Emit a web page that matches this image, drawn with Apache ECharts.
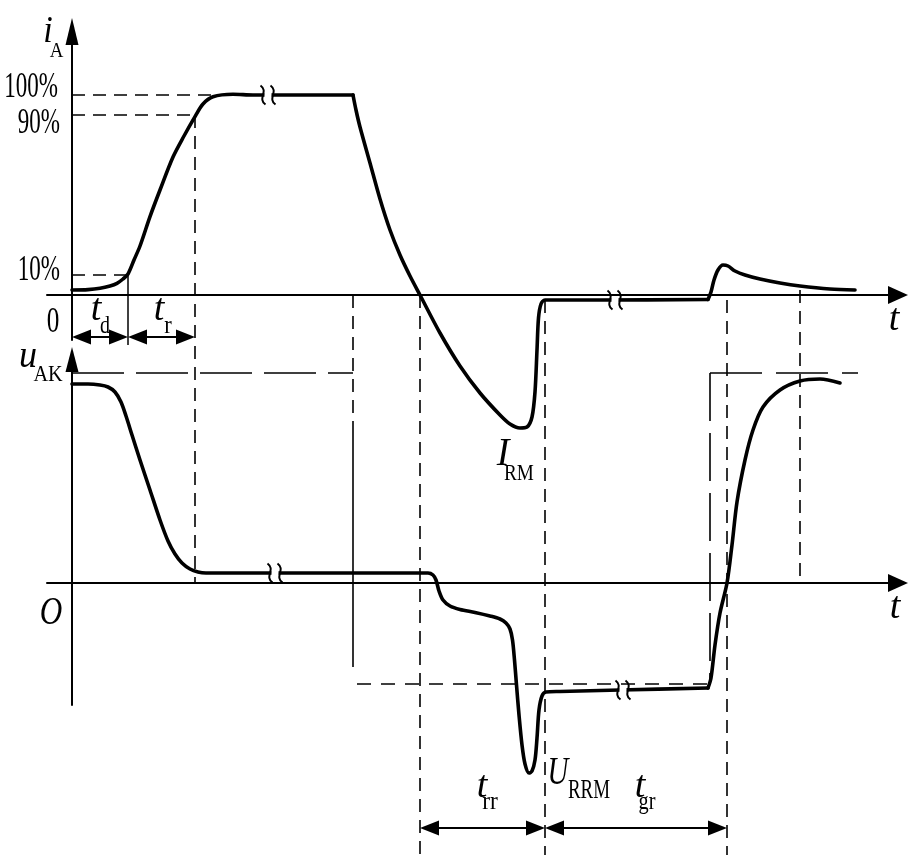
<!DOCTYPE html>
<html>
<head>
<meta charset="utf-8">
<script src="https://cdn.jsdelivr.net/npm/echarts@6/dist/echarts.min.js"></script>
<style>html,body{margin:0;padding:0;background:#fff;}#chart{width:916px;height:866px;}</style>
</head>
<body>
<div id="chart"></div>
<script>
// ---------------- data ----------------
// time t in arbitrary units, anode current i_A in % of on-state current,
// anode-cathode voltage u_AK in % units.
const iaTurnOn = [[0,2.5],[1.6,2.7],[2.8,3.35],[3.8,4.5],[4.5,5.85],[5.1,8],[5.6,10.5],[6.2,17.5],[6.8,24.5],
  [7.8,39.2],[8.8,52.5],[10.1,69],[11.2,79.5],[12.3,89.2],[13.1,95.5],[14.1,99.1],[16.1,100.35],[18.1,100],
  [22.8,100],[28.1,100]];
const iaTurnOff = [[28.1,100],[28.4,92.5],[28.8,84],[29.8,66],[30.8,48],[31.8,32.5],[32.8,20],[33.8,9.5],
  [34.8,0],[36.8,-19],[38.8,-35.5],[40.8,-49],[42.8,-60],[43.8,-64.5],[44.8,-66.5],[45.5,-66],[46.0,-61],
  [46.3,-48.5],[46.5,-27.5],[46.65,-11.5],[46.9,-4.5],[47.3,-2.5],[52.8,-2.5],[63.6,-2.25]];
const iaReapply = [[63.6,-2.25],[63.9,1.5],[64.2,7.5],[64.6,12.5],[65.1,15],[65.6,14.5],[66.3,12],[67.3,10],
  [68.8,8],[70.8,6],[72.8,4.5],[75.8,3],[78.3,2.5]];
const uakMain = [[0,99.5],[1.6,99.5],[2.8,99],[3.6,98],[4.3,95.5],[4.9,90.5],[5.4,83.5],[6.0,74],[6.8,61.5],
  [7.8,46.5],[8.8,31.5],[9.6,21],[10.3,14.5],[11.0,10],[11.8,7],[12.6,5.5],[13.4,5],[22.8,5],[35.6,5],
  [36.1,4],[36.4,1.5],[36.7,-4],[37.1,-8.5],[37.8,-11.5],[38.8,-13.25],[40.3,-14.75],[41.8,-16.5],[42.8,-18],
  [43.4,-20],[43.8,-23],[44.05,-28.5],[44.25,-38.5],[44.45,-51],[44.7,-66],[45.0,-81],[45.3,-90.5],
  [45.7,-95],[46.0,-94],[46.3,-88.5],[46.5,-77.5],[46.7,-63.5],[47.0,-56.5],[47.4,-54.5],[48.8,-54.25],
  [54.8,-53.5],[63.6,-52.5]];
const uakReapply = [[63.6,-52.5],[63.9,-47.5],[64.3,-31],[64.8,-15],[65.5,0],[66.0,19],[66.5,40.5],
  [67.3,61.5],[68.1,76.5],[69.1,88],[70.8,96.5],[72.8,101],[74.8,102],[76.8,100]];

// characteristic instants
const tD = 5.6, tR = 12.3, tOff = 28.1, tZero = 34.8, tRR = 47.3, tStep = 63.8, tGR = 65.5, tSettle = 72.8;
// current levels marked on the i_A axis
const iLevels = [100, 90, 10];
const iLevelEnds = [14.1, 12.3, 5.6];
const iLevelLabels = ['100%', '90%', '10%'];
// supply voltage reference levels
const uForward = 105, uReverse = -50.5;
// interval arrows [t from, t to, level]
const turnOnSpans = [[0, tD, -21], [tD, tR, -21]];
const recoverySpans = [[tZero, tRR, -122.5], [tRR, tGR, -122.5]];
// axis-break marks on the long flat parts
const iBreaks = [[19.6, 100], [54.3, -2.5]];
const uBreaks = [[20.3, 5], [55.1, -53.5]];

// ---------------- text (layout) ----------------
const spots0 = [
  {text:'i', t:-2.4, v:125, size:38, sx:0.9, italic:true},
  {text:'A', t:-1.55, v:118, size:21, sx:0.9},
  {text:iLevelLabels[0], t:-1.4, v:97.5, size:36, sx:0.64, align:'right'},
  {text:iLevelLabels[1], t:-1.2, v:79.5, size:36, sx:0.64, align:'right'},
  {text:iLevelLabels[2], t:-1.2, v:6, size:36, sx:0.64, align:'right'},
  {text:'0', t:-1.9, v:-20, size:36, sx:0.7},
  {text:'t', t:2.4, v:-14, size:38, sx:1, italic:true},
  {text:'d', t:3.3, v:-20, size:25, sx:0.8},
  {text:'t', t:8.7, v:-14, size:38, sx:1, italic:true},
  {text:'r', t:9.6, v:-20, size:25, sx:0.9},
  {text:'t', t:82.2, v:-19, size:38, sx:1, italic:true},
  {text:'I', t:43.1, v:-86.5, size:40, sx:0.95, italic:true},
  {text:'RM', t:44.7, v:-93.5, size:24, sx:0.8}
];
const spots1 = [
  {text:'u', t:-4.4, v:106.5, size:38, sx:0.95, italic:true},
  {text:'AK', t:-2.4, v:100, size:23, sx:0.88},
  {text:'O', t:-2.1, v:-22, size:40, sx:0.78, italic:true},
  {text:'t', t:82.3, v:-19, size:38, sx:1, italic:true},
  {text:'t', t:41, v:-108.5, size:38, sx:1, italic:true},
  {text:'rr', t:41.8, v:-114, size:26, sx:0.9},
  {text:'U', t:48.6, v:-102, size:40, sx:0.72, italic:true},
  {text:'RRM', t:51.7, v:-108.5, size:27, sx:0.7},
  {text:'t', t:56.8, v:-108.5, size:38, sx:1, italic:true},
  {text:'gr', t:57.5, v:-114, size:26, sx:0.78}
];

// ---------------- chart ----------------
const BLACK = '#000';
const FONT = '"Liberation Serif","Times New Roman",serif';
const DASH = [13, 8];

function line(panel, pts, width, dash, z) {
  return {type:'line', xAxisIndex:panel, yAxisIndex:panel, data:pts, symbol:'none', showSymbol:false,
    clip:false, silent:true, z:z || 2, animation:false,
    lineStyle:{color:BLACK, width:width, type:dash || 'solid', cap:'butt'}};
}
function curve(panel, pts) {
  const s = line(panel, pts, 3.6, null, 5);
  s.smooth = 0.3;
  s.lineStyle.cap = 'round';
  s.lineStyle.join = 'round';
  return s;
}
function arrows(panel, spans) {
  return {type:'custom', xAxisIndex:panel, yAxisIndex:panel, data:spans, clip:false, silent:true, z:6,
    encode:{x:[0,1], y:2},
    renderItem: function (params, api) {
      const p0 = api.coord([api.value(0), api.value(2)]);
      const p1 = api.coord([api.value(1), api.value(2)]);
      const L = 19, W = 7.5, y = p0[1];
      return {type:'group', children:[
        {type:'line', shape:{x1:p0[0] + L - 2, y1:y, x2:p1[0] - L + 2, y2:y}, style:{stroke:BLACK, lineWidth:2}},
        {type:'polygon', shape:{points:[[p0[0], y], [p0[0] + L, y - W], [p0[0] + L, y + W]]}, style:{fill:BLACK}},
        {type:'polygon', shape:{points:[[p1[0], y], [p1[0] - L, y - W], [p1[0] - L, y + W]]}, style:{fill:BLACK}}
      ]};
    }};
}
function breaks(panel, pts) {
  return {type:'custom', xAxisIndex:panel, yAxisIndex:panel, data:pts, clip:false, silent:true, z:7,
    renderItem: function (params, api) {
      const p = api.coord([api.value(0), api.value(1)]);
      const x = p[0], y = p[1], g = 5, h = 9.5;
      const S = function (cx) {
        return {type:'bezierCurve', shape:{x1:cx - 2.5, y1:y - h, cpx1:cx + 6, cpy1:y - h * 0.35,
          cpx2:cx - 6, cpy2:y + h * 0.35, x2:cx + 2.5, y2:y + h}, style:{stroke:BLACK, fill:'none', lineWidth:2}};
      };
      return {type:'group', children:[
        {type:'rect', shape:{x:x - g + 1.5, y:y - 3.5, width:2 * g - 3, height:7}, style:{fill:'#fff'}},
        S(x - g), S(x + g)
      ]};
    }};
}
function texts(panel, spots) {
  return {type:'custom', xAxisIndex:panel, yAxisIndex:panel, data:spots.map(s => [s.t, s.v]), clip:false,
    silent:true, z:10,
    renderItem: function (params, api) {
      const s = spots[params.dataIndex];
      const p = api.coord([api.value(0), api.value(1)]);
      return {type:'text', x:p[0], y:p[1] - 0.34 * s.size, scaleX:s.sx,
        style:{text:s.text, fill:BLACK, fontSize:s.size, fontFamily:FONT,
          fontStyle:s.italic ? 'italic' : 'normal', align:s.align || 'center', verticalAlign:'middle'}};
    }};
}

const series = [];
iLevels.forEach((lv, k) => series.push(line(0, [[0, lv], [iLevelEnds[k], lv]], 1.6, DASH)));
series.push(line(0, [[tD, 11], [tD, -25]], 1.5));
series.push(line(0, [[tR, 90], [tR, -144]], 1.6, DASH));
series.push(line(0, [[tOff, 0], [tOff, -69]], 1.6, DASH));
series.push(line(1, [[tOff, 75], [tOff, -42]], 1.6));
series.push(line(0, [[tZero, 0], [tZero, -280]], 1.6, DASH));
series.push(line(0, [[tRR, -2.5], [tRR, -280]], 1.6, DASH));
series.push(line(0, [[tGR, -2.5], [tGR, -280]], 1.6, DASH));
series.push(line(0, [[tSettle, 2.5], [tSettle, -141.5]], 1.6, DASH));
series.push(line(1, [[tStep, uForward], [tStep, uReverse]], 1.6, [48, 12]));
series.push(line(1, [[0, uForward], [tOff, uForward]], 1.6, [52, 12]));
series.push(line(1, [[tStep, uForward], [78.6, uForward]], 1.6, [52, 14]));
series.push(line(1, [[28.5, uReverse], [tStep, uReverse]], 1.6, [14, 10]));
series.push(curve(0, iaTurnOn), curve(0, iaTurnOff), curve(0, iaReapply));
series.push(curve(1, uakMain), curve(1, uakReapply));
series.push(arrows(0, turnOnSpans), arrows(1, recoverySpans));
series.push(breaks(0, iBreaks), breaks(1, uBreaks));
series.push(texts(0, spots0), texts(1, spots1));

function xAx(g) {
  return {type:'value', gridIndex:g, min:-2.5, max:82.6,
    axisLine:{show:true, onZero:true, symbol:['none', 'triangle'], symbolSize:[18, 20], lineStyle:{color:BLACK, width:2}},
    axisTick:{show:false}, axisLabel:{show:false}, splitLine:{show:false}};
}
function yAx(g, min, max, arrowLen) {
  return {type:'value', gridIndex:g, min:min, max:max,
    axisLine:{show:true, onZero:true, symbol:['none', 'triangle'], symbolSize:[13, arrowLen], lineStyle:{color:BLACK, width:2}},
    axisTick:{show:false}, axisLabel:{show:false}, splitLine:{show:false}};
}

const chart = echarts.init(document.getElementById('chart'), null, {renderer:'canvas'});
chart.setOption({
  backgroundColor:'#fff',
  animation:false,
  grid:[
    {left:47, right:18, top:31.5, height:308.5},
    {left:47, right:18, top:359.5, height:345.5}
  ],
  xAxis:[xAx(0), xAx(1)],
  yAxis:[yAx(0, -22.5, 131.75, 27), yAx(1, -61, 111.75, 25)],
  series:series
});
</script>
</body>
</html>
